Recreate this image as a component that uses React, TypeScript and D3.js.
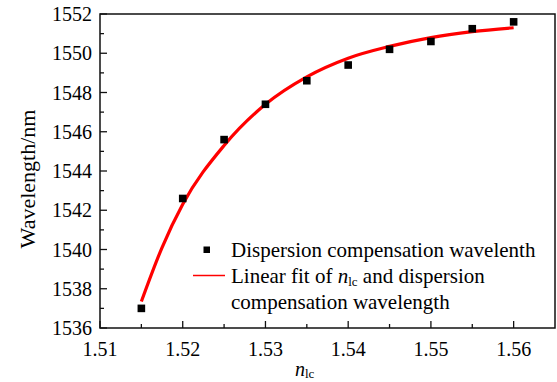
import React, { useEffect, useRef } from 'react';
import * as d3 from 'd3';

// measured points (n_lc vs dispersion compensation wavelength)
const nlc = [1.515, 1.52, 1.525, 1.53, 1.535, 1.54, 1.545, 1.55, 1.555, 1.56];
const wavelength = [1537.0, 1542.6, 1545.6, 1547.4, 1548.6, 1549.4, 1550.2, 1550.6, 1551.25, 1551.6];

// fit curve
const fitX = [1.515, 1.5175, 1.52, 1.525, 1.53, 1.535, 1.54, 1.545, 1.55, 1.555, 1.56];
const fitY = [1537.35, 1540.1, 1542.3, 1545.3, 1547.4, 1548.8, 1549.75, 1550.35, 1550.8, 1551.1, 1551.3];

const xTicks = [1.51, 1.52, 1.53, 1.54, 1.55, 1.56];
const yTicks = [1536, 1538, 1540, 1542, 1544, 1546, 1548, 1550, 1552];

const legendLabels = [
  'Dispersion compensation wavelenth',
  'Linear fit of ',
  'compensation wavelength',
];

const App = () => {
  const svgRef = useRef<SVGSVGElement | null>(null);

  useEffect(() => {
    if (!svgRef.current) return;
    const width = 557;
    const height = 382;
    const m = { left: 100, right: 2, top: 14, bottom: 54 };
    const font = 'Liberation Serif, Times New Roman, Times, DejaVu Serif, serif';

    const svg = d3.select(svgRef.current)
      .attr('width', width)
      .attr('height', height)
      .attr('font-family', font);
    svg.selectAll('*').remove();

    const x = d3.scaleLinear().domain([1.51, 1.565]).range([m.left, width - m.right]);
    const y = d3.scaleLinear().domain([1536, 1552]).range([height - m.bottom, m.top]);

    const x0 = x.range()[0], x1 = x.range()[1];
    const y0 = y.range()[0], y1 = y.range()[1];

    // ticks (inward)
    const g = svg.append('g').attr('stroke', '#111').attr('stroke-width', 1.3);
    d3.range(1536, 1552.01, 1).forEach(v => {
      const major = Math.round(v) % 2 === 0;
      g.append('line')
        .attr('x1', x0).attr('x2', x0 + (major ? 7 : 4))
        .attr('y1', y(v)).attr('y2', y(v));
    });
    d3.range(0, 11).forEach(i => {
      const v = 1.51 + i * 0.005;
      const major = i % 2 === 0;
      g.append('line')
        .attr('x1', x(v)).attr('x2', x(v))
        .attr('y1', y0).attr('y2', y0 - (major ? 7 : 4));
    });

    // frame
    svg.append('rect')
      .attr('x', x0).attr('y', y1)
      .attr('width', x1 - x0).attr('height', y0 - y1)
      .attr('fill', 'none').attr('stroke', '#111').attr('stroke-width', 1.5);

    // tick labels
    svg.append('g').selectAll('text')
      .data(yTicks)
      .join('text')
      .attr('x', x0 - 8)
      .attr('y', d => y(d))
      .attr('dy', '0.35em')
      .attr('text-anchor', 'end')
      .attr('font-size', 20)
      .text(d => d);

    svg.append('g').selectAll('text')
      .data(xTicks)
      .join('text')
      .attr('x', d => x(d))
      .attr('y', y0 + 28)
      .attr('text-anchor', 'middle')
      .attr('font-size', 20)
      .text(d => d.toFixed(2));

    // axis titles
    svg.append('text')
      .attr('transform', `translate(35,${(y0 + y1) / 2 + 8}) rotate(-90)`)
      .attr('text-anchor', 'middle')
      .attr('font-size', 22)
      .text('Wavelength/nm');

    const xt = svg.append('text')
      .attr('x', 295)
      .attr('y', 376)
      .attr('font-size', 20);
    xt.append('tspan').attr('font-style', 'italic').text('n');
    xt.append('tspan').attr('font-size', 13).attr('dy', 2).text('lc');

    // fit curve
    const line = d3.line<number>()
      .x((_, i) => x(fitX[i]))
      .y(d => y(d))
      .curve(d3.curveMonotoneX);
    svg.append('path')
      .datum(fitY)
      .attr('d', line)
      .attr('fill', 'none')
      .attr('stroke', '#ff0000')
      .attr('stroke-width', 3.2);

    // points
    svg.append('g').selectAll('rect')
      .data(wavelength)
      .join('rect')
      .attr('x', (_, i) => x(nlc[i]) - 3.8)
      .attr('y', d => y(d) - 3.8)
      .attr('width', 7.6)
      .attr('height', 7.6)
      .attr('fill', '#000');

    // legend
    const lg = svg.append('g').attr('font-size', 21);
    lg.append('rect')
      .attr('x', 203.5).attr('y', 246.5)
      .attr('width', 6.5).attr('height', 6.5)
      .attr('fill', '#000');
    lg.append('text').attr('x', 231).attr('y', 257).text(legendLabels[0]);
    lg.append('line')
      .attr('x1', 193).attr('x2', 225)
      .attr('y1', 275.5).attr('y2', 275.5)
      .attr('stroke', '#ff0000').attr('stroke-width', 1.5);
    const t2 = lg.append('text').attr('x', 231).attr('y', 283);
    t2.append('tspan').text(legendLabels[1]);
    t2.append('tspan').attr('font-style', 'italic').text('n');
    t2.append('tspan').attr('font-size', 13).attr('dy', 3).text('lc');
    t2.append('tspan').attr('dy', -3).text(' and dispersion');
    lg.append('text').attr('x', 231).attr('y', 308.5).text(legendLabels[2]);
  }, []);

  return (
    <svg ref={svgRef} style={{ position: 'absolute', left: 0, top: 0, background: '#fff' }}></svg>
  );
};

export default App;
